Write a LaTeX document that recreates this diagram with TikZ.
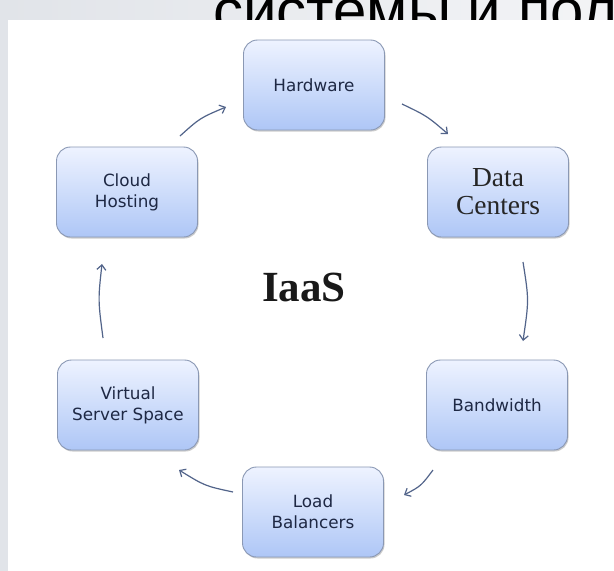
\documentclass[tikz,border=0pt]{standalone}
\usepackage{fontspec}
\setmainfont{Liberation Serif}
\newfontfamily\boxfont{DejaVu Sans}
\newfontfamily\headfont{Liberation Sans}
\usetikzlibrary{arrows.meta,shadows}
\definecolor{boxtop}{HTML}{EEF3FF}
\definecolor{boxbot}{HTML}{AEC6F6}
\definecolor{boxline}{HTML}{8A98B4}
\definecolor{txt}{HTML}{1E2844}
\definecolor{arrowc}{HTML}{52648A}
\definecolor{bgl}{HTML}{E1E4E9}
\definecolor{bgr}{HTML}{F3F4F6}
\begin{document}
\begin{tikzpicture}[x=1pt,y=-1pt,
  cbox/.style={draw=boxline, line width=0.9pt, rounded corners=14pt,
    top color=boxtop, bottom color=boxbot, minimum width=141pt, minimum height=90pt,
    align=center, text=txt, font=\boxfont\fontsize{16.8}{21}\selectfont, inner sep=0pt,
    drop shadow={shadow xshift=1pt, shadow yshift=-1.5pt, opacity=0.2, fill=black}},
  conn/.style={draw=arrowc, line width=1.2pt, -{Straight Barb[length=5pt,width=9pt]}}]
\useasboundingbox (0,0) rectangle (614,571);
\fill[left color=bgl, right color=bgr] (0,0) rectangle (614,571);
\node[anchor=base west, font=\headfont\fontsize{60}{60}\selectfont, inner sep=0pt] (head) at (213,31) {системы и пол};
\fill[white] (8,20) rectangle (614,571);

\node[cbox] (hw) at (314,85) {Hardware};
\node[cbox, font=\fontsize{27.5}{28}\selectfont, text=black!85] (dc) at (498,192) {Data\\Centers};
\node[cbox] (ch) at (127,192) {Cloud\\Hosting};
\node[cbox] (vss) at (128,405) {Virtual\\Server Space};
\node[cbox] (bw) at (497,405) {Bandwidth};
\node[cbox] (lb) at (313,512) {Load\\Balancers};
\node[font=\bfseries\fontsize{43}{43}\selectfont, text=black!90] (iaas) at (304,287) {IaaS};

\coordinate (a1s) at (180,136); \coordinate (a1e) at (226,107);
\coordinate (a2s) at (402,104); \coordinate (a2e) at (448,134);
\coordinate (a3s) at (523,262); \coordinate (a3e) at (523,341);
\coordinate (a4s) at (433,470); \coordinate (a4e) at (404,495);
\coordinate (a5s) at (233,492); \coordinate (a5e) at (179,470);
\coordinate (a6s) at (103,338); \coordinate (a6e) at (102,264);

\draw[conn] (a1s) .. controls (200,118) .. (a1e);
\draw[conn] (a2s) .. controls (427,116) .. (a2e);
\draw[conn] (a3s) .. controls (529,300) .. (a3e);
\draw[conn] (a4s) .. controls (421,486) .. (a4e);
\draw[conn] (a5s) .. controls (205,486) .. (a5e);
\draw[conn] (a6s) .. controls (98,300) .. (a6e);
\end{tikzpicture}
\end{document}
